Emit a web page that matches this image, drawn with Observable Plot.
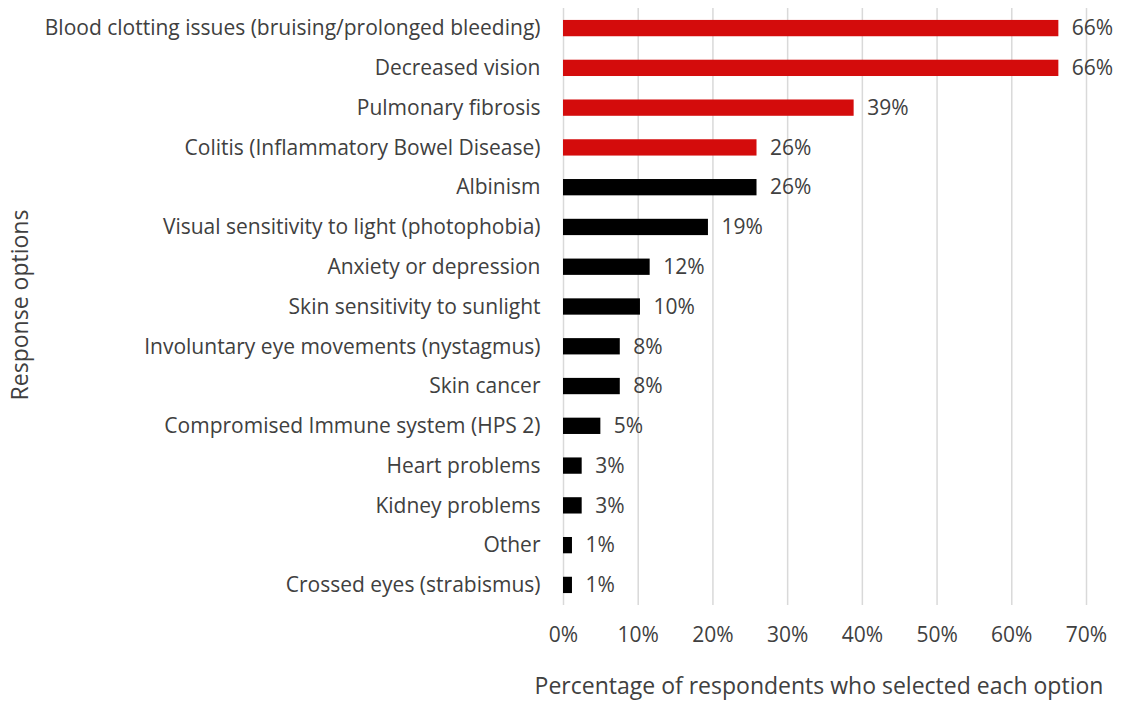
<!DOCTYPE html>
<html><head><meta charset="utf-8">
<script src="https://cdn.jsdelivr.net/npm/d3@7"></script>
<script src="https://cdn.jsdelivr.net/npm/@observablehq/plot@0.6"></script>
<style>body{margin:0;background:#fff;}</style>
</head><body><div id="chart"></div>
<script>
const categories = [
  "Blood clotting issues (bruising/prolonged bleeding)",
  "Decreased vision",
  "Pulmonary fibrosis",
  "Colitis (Inflammatory Bowel Disease)",
  "Albinism",
  "Visual sensitivity to light (photophobia)",
  "Anxiety or depression",
  "Skin sensitivity to sunlight",
  "Involuntary eye movements (nystagmus)",
  "Skin cancer",
  "Compromised Immune system (HPS 2)",
  "Heart problems",
  "Kidney problems",
  "Other",
  "Crossed eyes (strabismus)"
];
const values = [66.3, 66.3, 38.9, 25.9, 25.9, 19.4, 11.6, 10.3, 7.6, 7.6, 5.0, 2.5, 2.5, 1.2, 1.2];
const valueLabels = ["66%", "66%", "39%", "26%", "26%", "19%", "12%", "10%", "8%", "8%", "5%", "3%", "3%", "1%", "1%"];
const groups = ["highlight", "highlight", "highlight", "highlight", "other", "other", "other", "other", "other", "other", "other", "other", "other", "other", "other"];
const xTicks = [0, 10, 20, 30, 40, 50, 60, 70];
const xTitle = "Percentage of respondents who selected each option";
const yTitle = "Response options";

const data = categories.map((c, i) => ({category: c, value: values[i], label: valueLabels[i], group: groups[i]}));

const FS = 21;
const TS = 23;
const chart = Plot.plot({
  width: 1122,
  height: 703,
  marginLeft: 563,
  marginRight: 36,
  marginTop: 8,
  marginBottom: 98,
  style: {fontFamily: "Open Sans", fontSize: FS + "px", color: "#404040", background: "#fff"},
  x: {domain: [0, 70]},
  y: {domain: categories, paddingInner: 0.59, paddingOuter: 0.3, round: false},
  color: {domain: ["highlight", "other"], range: ["#d40c0c", "#000000"]},
  marks: [
    Plot.gridX(xTicks, {stroke: "#d9d9d9", strokeOpacity: 1, strokeWidth: 1.5}),
    Plot.barX(data, {x: "value", y: "category", fill: "group"}),
    Plot.text(data, {x: "value", y: "category", text: "label", textAnchor: "start", dx: 13, fill: "#404040", fontSize: FS}),
    Plot.axisX({ticks: xTicks, tickSize: 0, tickPadding: 22, tickFormat: d => d + "%", fontSize: FS, label: null}),
    Plot.axisY({tickSize: 0, tickPadding: 23, fontSize: FS, label: null}),
    Plot.text([yTitle], {frameAnchor: "left", text: d => d, rotate: -90, dx: -552, dy: -2, textAnchor: "middle", lineAnchor: "top", fontSize: TS, fill: "#404040"}),
    Plot.text([xTitle], {frameAnchor: "bottom", text: d => d, dy: 88, dx: -6, textAnchor: "middle", lineAnchor: "bottom", fontSize: TS, fill: "#404040"})
  ]
});
document.getElementById("chart").appendChild(chart);
</script>
</body></html>
